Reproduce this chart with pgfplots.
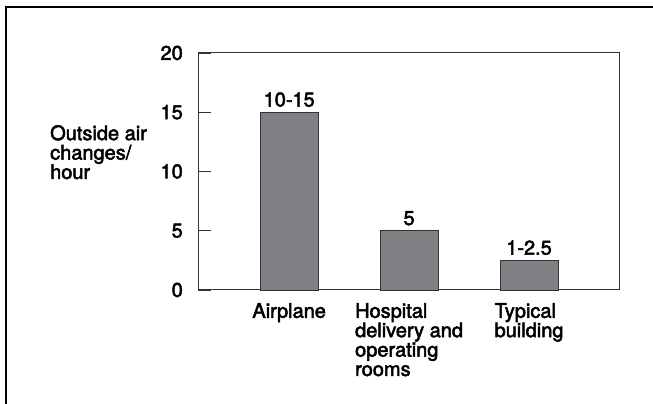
\documentclass[border=0pt]{standalone}
\usepackage{pgfplots}
\pgfplotsset{compat=1.18}
\usepackage{fontspec}
\setmainfont{TeX Gyre Heros}
\newfontfamily\medfont{TeX Gyre Heros}[FakeBold=2.5]
\definecolor{barfill}{HTML}{7F8083}
\definecolor{baredge}{HTML}{333333}
\newcommand{\lblfont}{\medfont\fontsize{20}{19.4}\selectfont}

\begin{document}
\begin{tikzpicture}
\useasboundingbox (0pt,0pt) rectangle (653pt,404pt);
% outer frame (top and left only)
\draw[line width=1.5pt] (6pt,0pt) -- (6pt,397pt) -- (653pt,397pt);
\begin{axis}[
  at={(198pt,114pt)}, anchor=south west,
  scale only axis, width=421pt, height=237pt,
  ybar, bar width=58pt,
  xmin=-0.76, xmax=2.75, ymin=0, ymax=20,
  xtick={0,1,2},
  xticklabels={Airplane,{Hospital\\delivery and\\operating\\rooms},{Typical\\building}},
  ytick={0,5,10,15,20},
  ytick pos=left, tick align=inside, major tick length=13pt,
  tick style={black!80, line width=0.8pt},
  xtick style={draw=none},
  axis line style={black!80, line width=1pt},
  ticklabel style={font=\lblfont, inner sep=0pt},
  xticklabel style={align=left, yshift=-13pt},
  yticklabel style={xshift=-15pt},
  /pgf/number format/assume math mode=true,
  nodes near coords, point meta=explicit symbolic,
  nodes near coords style={font=\lblfont, inner sep=0pt, yshift=5pt},
  clip=false,
]
\addplot[fill=barfill, draw=baredge, line width=0.8pt] table[meta=label] {
x y label
0 15 10-15
1 5 5
2 2.5 1-2.5
};
\end{axis}
\node[anchor=north west, align=left, inner sep=0pt, font=\lblfont] at (50pt,279pt) {Outside air\\changes/\\hour};
\end{tikzpicture}
\end{document}
